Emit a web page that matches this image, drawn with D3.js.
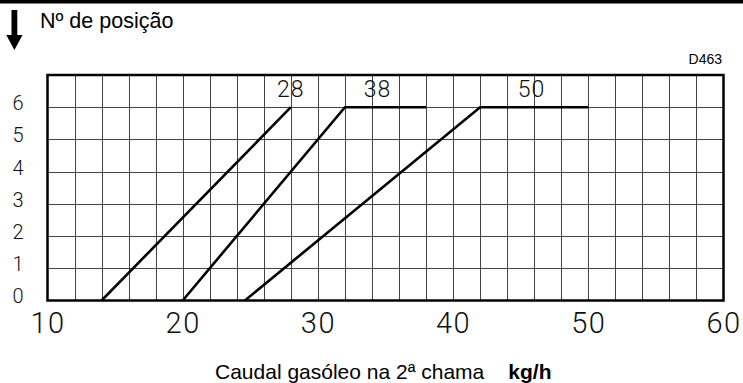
<!DOCTYPE html>
<html>
<head>
<meta charset="utf-8">
<script src="https://cdn.jsdelivr.net/npm/d3@7"></script>
<style>
  html, body { margin: 0; padding: 0; background: #fff; }
  svg { display: block; }
  .sans { font-family: "Liberation Sans", Arial, sans-serif; fill: #000; }
</style>
</head>
<body>
<svg id="chart" width="743" height="383"></svg>
<script>
// Flow (kg/h) against position number for each nozzle size
const xTicks = [10, 20, 30, 40, 50, 60];
const yTicks = [0, 1, 2, 3, 4, 5, 6];
const curveNames = ["28", "38", "50"];
const curve28 = [[14, 0], [28, 6]];
const curve38 = [[20, 0], [32, 6], [38, 6]];
const curve50 = [[24.6, 0], [42, 6], [50, 6]];
const curveLabelX = [28, 34.4, 45.8];

const svg = d3.select("#chart");
const W = 743, H = 383;
const plotLeft = 47.5, plotRight = 723.5, plotTop = 75, plotBottom = 300.5;

const x = d3.scaleLinear().domain([10, 60]).range([plotLeft, plotRight]);
const y = d3.scaleLinear().domain([0, 7]).range([plotBottom, plotTop]);

// thin drafting-style lettering
function cadText(sel, size, spacing) {
  sel.attr("font-size", size)
    .attr("letter-spacing", spacing)
    .attr("fill", "#111")
    .attr("stroke", "none")
    .style("font-family", "Roboto, 'DejaVu Sans', sans-serif")
    .style("font-weight", 300);
}

// heavy rule across the top of the sheet
svg.append("rect").attr("x", 0).attr("y", 0).attr("width", W).attr("height", 3.5).attr("fill", "#000");

// downward arrow next to the heading
svg.append("path")
  .attr("d", "M11.5,10 L17.3,10 L17.3,35 L22.5,35 L14.4,50 L6.3,35 L11.5,35 Z")
  .attr("fill", "#000");
svg.append("text").attr("class", "sans")
  .attr("x", 40).attr("y", 28)
  .attr("font-size", 21.5)
  .text("Nº de posição");

svg.append("text").attr("class", "sans")
  .attr("x", 722).attr("y", 63.5)
  .attr("text-anchor", "end")
  .attr("font-size", 14)
  .text("D463");

// grid: vertical lines every 2 kg/h, horizontal every position
const g = svg.append("g");
const vGrid = d3.range(12, 60, 2);
g.selectAll("line.v").data(vGrid).join("line")
  .attr("x1", d => Math.round(x(d)) + 0.5).attr("x2", d => Math.round(x(d)) + 0.5)
  .attr("y1", plotTop).attr("y2", plotBottom)
  .attr("stroke", "#444").attr("stroke-width", 1);
g.selectAll("line.h").data(d3.range(1, 7)).join("line")
  .attr("x1", plotLeft).attr("x2", plotRight)
  .attr("y1", d => Math.round(y(d)) + 0.5).attr("y2", d => Math.round(y(d)) + 0.5)
  .attr("stroke", "#444").attr("stroke-width", 1);

// frame
svg.append("rect")
  .attr("x", plotLeft).attr("y", plotTop)
  .attr("width", plotRight - plotLeft).attr("height", plotBottom - plotTop)
  .attr("fill", "none").attr("stroke", "#000").attr("stroke-width", 2.5);

// curves
const line = d3.line().x(d => x(d[0])).y(d => y(d[1]));
[curve28, curve38, curve50].forEach(c => {
  svg.append("path").attr("d", line(c))
    .attr("fill", "none").attr("stroke", "#000")
    .attr("stroke-width", 2.6).attr("stroke-linejoin", "miter");
});

// curve labels
svg.selectAll("text.curve").data(curveNames).join("text")
  .attr("x", (d, i) => x(curveLabelX[i]))
  .attr("y", 97)
  .attr("text-anchor", "middle")
  .text(d => d)
  .call(cadText, 23, 1);

// x axis labels
const xAxis = d3.axisBottom(x).tickValues(xTicks).tickFormat(d3.format("d")).tickSize(0).tickPadding(12);
const xg = svg.append("g").attr("transform", `translate(0,${plotBottom})`).call(xAxis);
xg.select(".domain").remove();
xg.selectAll("text").call(cadText, 29, 1.5);

// y axis labels
const yAxis = d3.axisLeft(y).tickValues(yTicks).tickFormat(d3.format("d")).tickSize(0).tickPadding(24);
const yg = svg.append("g").attr("transform", `translate(${plotLeft},-4)`).call(yAxis);
yg.select(".domain").remove();
yg.selectAll("text").call(cadText, 20, 0);

// axis title
const t = svg.append("text").attr("class", "sans").attr("x", 215).attr("y", 379).attr("font-size", 21);
t.append("tspan").text("Caudal gasóleo na 2ª chama");
t.append("tspan").attr("dx", 24).attr("font-weight", "bold").text("kg/h");
</script>
</body>
</html>
